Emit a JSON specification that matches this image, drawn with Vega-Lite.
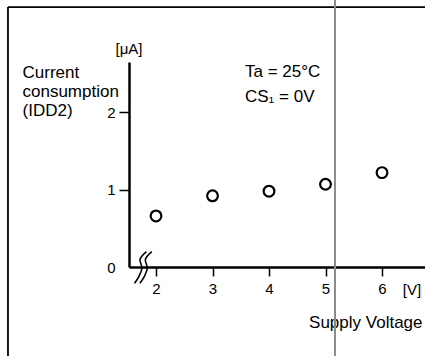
{
  "$schema": "https://vega.github.io/schema/vega-lite/v6.json",
  "width": 296,
  "height": 205,
  "autosize": "none",
  "padding": {"left": 129, "top": 62, "right": 0, "bottom": 89},
  "background": "white",
  "config": {"view": {"stroke": null}, "font": "Liberation Sans"},
  "datasets": {
    "points": [
      {"x": 2, "y": 0.66},
      {"x": 3, "y": 0.92},
      {"x": 4, "y": 0.98},
      {"x": 5, "y": 1.07},
      {"x": 6, "y": 1.22}
    ],
    "frame": [
      {"x": -0.62, "x2": 7.0, "y": 3.36, "y2": 3.36},
      {"x": -0.62, "x2": -0.62, "y": 3.36, "y2": -1.3}
    ],
    "scanline": [{"x": 5.168, "y": 3.6, "y2": -1.3}],
    "breakmark": [
      {"curve": "a", "i": 0, "x": 1.83, "y": 0.2},
      {"curve": "a", "i": 1, "x": 1.717, "y": 0.1},
      {"curve": "a", "i": 2, "x": 1.752, "y": -0.013},
      {"curve": "a", "i": 3, "x": 1.699, "y": -0.12},
      {"curve": "a", "i": 4, "x": 1.62, "y": -0.21},
      {"curve": "b", "i": 0, "x": 1.925, "y": 0.2},
      {"curve": "b", "i": 1, "x": 1.812, "y": 0.1},
      {"curve": "b", "i": 2, "x": 1.847, "y": -0.013},
      {"curve": "b", "i": 3, "x": 1.794, "y": -0.12},
      {"curve": "b", "i": 4, "x": 1.715, "y": -0.21}
    ],
    "centerText": [
      {"label": "[μA]", "x": 1.522, "y": 2.818},
      {"label": "[V]", "x": 6.531, "y": -0.297}
    ],
    "leftText": [
      {"label": "Ta = 25°C", "x": 3.575, "y": 2.52},
      {"label": "CS₁ = 0V", "x": 3.575, "y": 2.2}
    ]
  },
  "encoding": {
    "x": {
      "field": "x", "type": "quantitative",
      "scale": {"domain": [1.522, 6.761]},
      "axis": {
        "values": [2, 3, 4, 5, 6], "grid": false,
        "tickSize": 9, "tickWidth": 1.5, "tickColor": "black",
        "domainColor": "black", "domainWidth": 2.5,
        "labelFontSize": 15, "labelColor": "black", "labelPadding": 5, "labelFont": "Liberation Sans",
        "title": "Supply Voltage", "titleFontSize": 17, "titleFontWeight": "normal", "titleColor": "black",
        "titleFont": "Liberation Sans",
        "titleX": 293, "titleY": 55, "titleAlign": "right", "titleBaseline": "middle"
      }
    },
    "y": {
      "field": "y", "type": "quantitative",
      "scale": {"domain": [0, 2.65]},
      "axis": {
        "values": [0, 1, 2], "grid": false,
        "tickSize": 10, "tickWidth": 1.5, "tickColor": "black",
        "tickOpacity": {"condition": {"test": "datum.value === 0", "value": 0}, "value": 1},
        "domainColor": "black", "domainWidth": 2.5,
        "labelFontSize": 15, "labelColor": "black", "labelPadding": 4, "labelFont": "Liberation Sans",
        "title": ["Current", "consumption", "(IDD2)"],
        "titleFontSize": 17, "titleFontWeight": "normal", "titleColor": "black", "titleFont": "Liberation Sans",
        "titleAngle": 0, "titleAlign": "left", "titleBaseline": "alphabetic",
        "titleX": -107, "titleY": 15, "titleLineHeight": 19
      }
    }
  },
  "layer": [
    {
      "data": {"name": "frame"},
      "mark": {"type": "rule", "color": "black", "strokeWidth": 1.8, "clip": false},
      "encoding": {
        "x2": {"field": "x2"},
        "y2": {"field": "y2"}
      }
    },
    {
      "data": {"name": "scanline"},
      "mark": {"type": "rule", "color": "#8c8c8c", "strokeWidth": 2, "clip": false},
      "encoding": {
        "y2": {"field": "y2"}
      }
    },
    {
      "data": {"name": "points"},
      "mark": {"type": "point", "filled": false, "color": "black", "size": 115, "strokeWidth": 2.2, "opacity": 1},
      "encoding": {}
    },
    {
      "data": {"name": "breakmark"},
      "mark": {"type": "line", "color": "black", "strokeWidth": 1.6, "interpolate": "cardinal", "clip": false},
      "encoding": {
        "detail": {"field": "curve"},
        "order": {"field": "i", "type": "quantitative"}
      }
    },
    {
      "data": {"name": "centerText"},
      "mark": {"type": "text", "align": "center", "baseline": "middle", "fontSize": 15, "color": "black", "clip": false},
      "encoding": {
        "text": {"field": "label"}
      }
    },
    {
      "data": {"name": "leftText"},
      "mark": {"type": "text", "align": "left", "baseline": "middle", "fontSize": 17, "color": "black", "clip": false},
      "encoding": {
        "text": {"field": "label"}
      }
    }
  ]
}
